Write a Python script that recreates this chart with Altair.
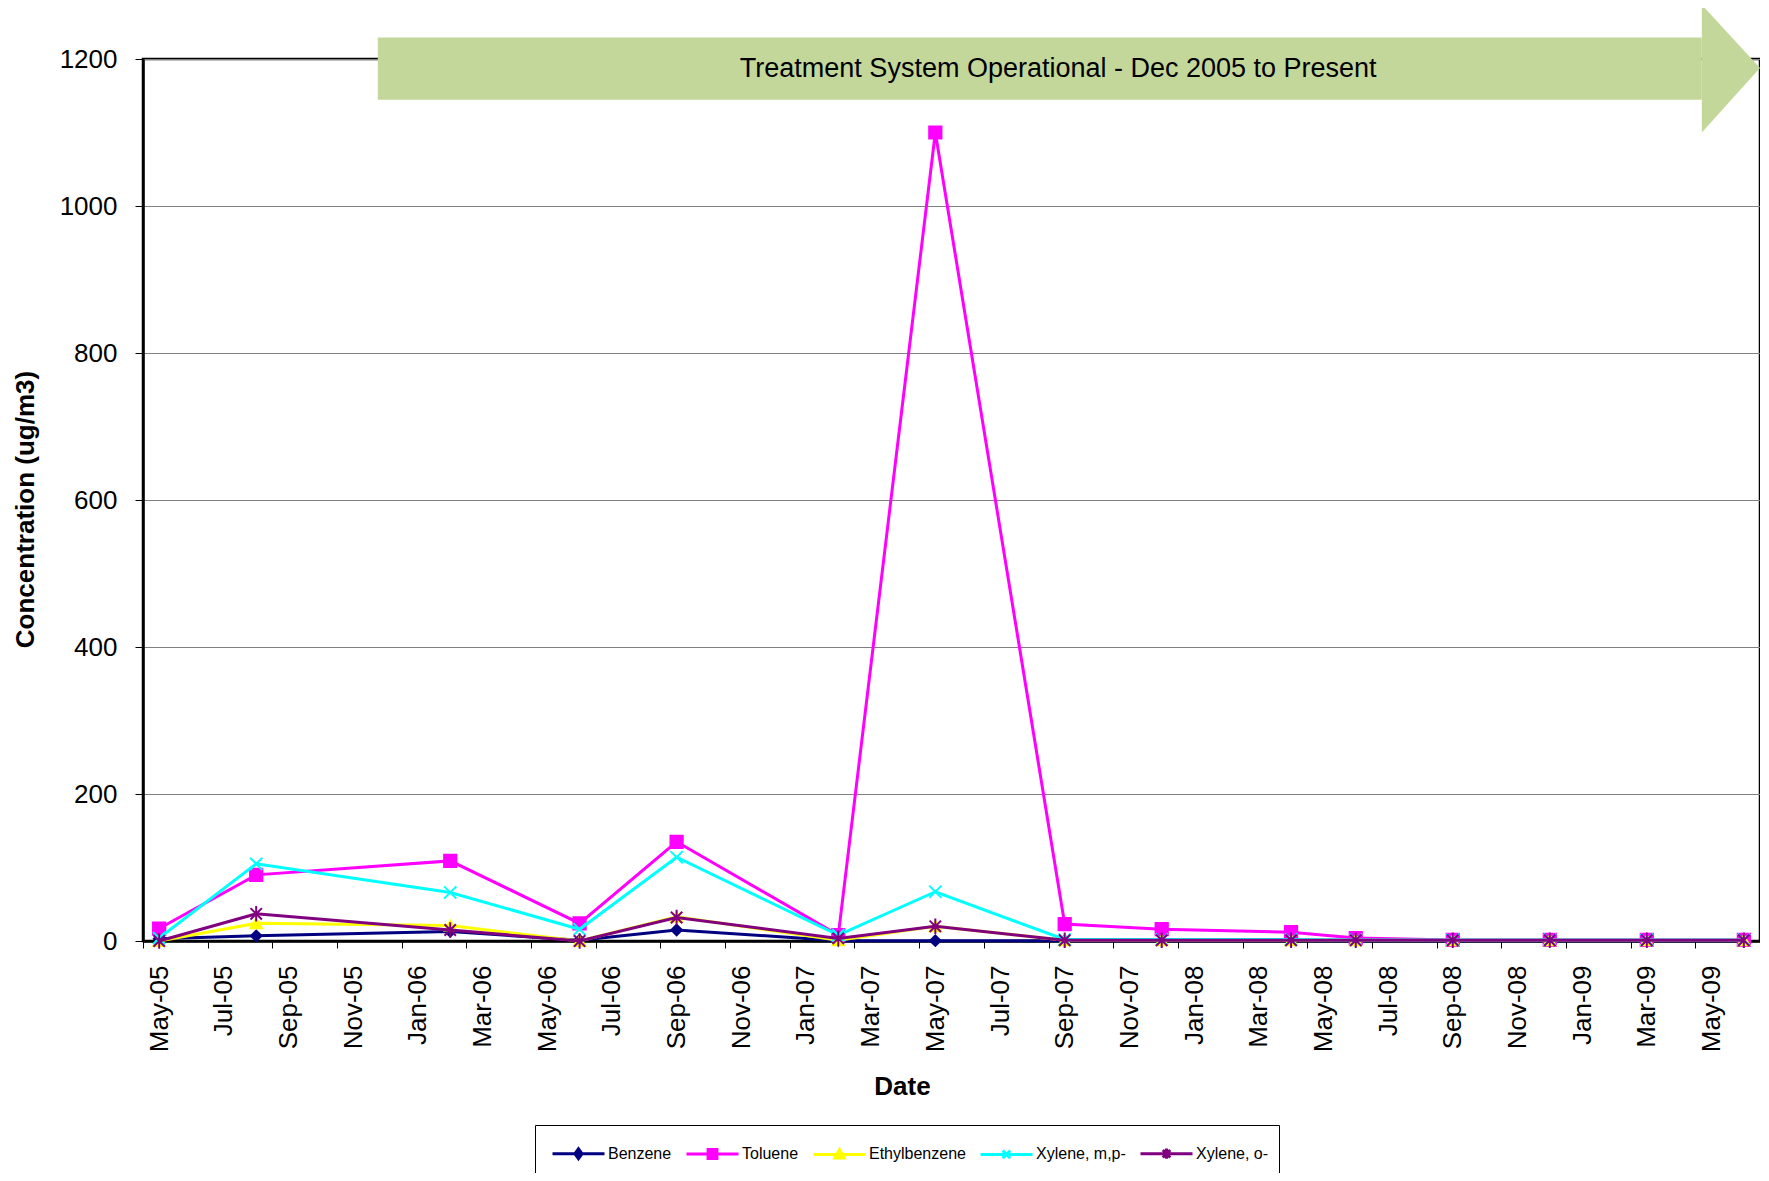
import json
import altair as alt
import pandas as pd

# ---------------- data ----------------
series = ["Benzene", "Toluene", "Ethylbenzene", "Xylene, m,p-", "Xylene, o-"]
colors = ["#000080", "#FF00FF", "#FFFF00", "#00FFFF", "#800080"]

dates = ["2005-05", "2005-08", "2006-02", "2006-06", "2006-09", "2007-02", "2007-05",
         "2007-09", "2007-12", "2008-04", "2008-06", "2008-09", "2008-12", "2009-03", "2009-06"]

benzene      = [3, 7, 13, 1, 15, 0.5, 0.5, 0.5, 0.5, 0.5, 0.5, 0.5, 0.5, 0.5, 0.5]
toluene      = [17, 90, 109, 24, 135, 8, 1100, 23, 16, 12, 4, 1.5, 1.5, 1.5, 1.5]
ethylbenzene = [0, 24, 21, 0, 33, 1, 20, 1, 1, 1, 1, 1, 1, 1, 1]
xylene_mp    = [4, 105, 66, 16, 114, 8, 67, 2, 2, 2, 1.5, 1.5, 1.5, 1.5, 1.5]
xylene_o     = [0, 37, 15, 0, 32, 3.5, 20, 1, 1, 1, 1, 1, 1, 1, 1]
values = [benzene, toluene, ethylbenzene, xylene_mp, xylene_o]

tick_labels = ["May-05", "Jul-05", "Sep-05", "Nov-05", "Jan-06", "Mar-06", "May-06", "Jul-06",
               "Sep-06", "Nov-06", "Jan-07", "Mar-07", "May-07", "Jul-07", "Sep-07", "Nov-07",
               "Jan-08", "Mar-08", "May-08", "Jul-08", "Sep-08", "Nov-08", "Jan-09", "Mar-09",
               "May-09"]
y_ticks = [0, 200, 400, 600, 800, 1000, 1200]

banner_text = "Treatment System Operational - Dec 2005 to Present"
# banner arrow (in data units: month index / concentration)
banner_body_x = [7.26, 48.2]
banner_body_y = [1144.5, 1229.3]
banner_head_x = [48.2, 50.0]
banner_head_y = [1100.0, 1187.7]
banner_head_y2 = [1273.8, 1187.7]
banner_text_pos = [28.3, 1187.0]

# ---------------- table ----------------
start = pd.Timestamp("2005-05-01")
rows = []
for s, vals in zip(series, values):
    for d, v in zip(dates, vals):
        t = pd.Timestamp(d + "-01")
        idx = (t.year - start.year) * 12 + (t.month - start.month) + 0.5
        rows.append({"series": s, "idx": idx, "value": v, "date": d})
df = pd.DataFrame(rows)

n_months = 50
FONT = "Liberation Sans"
W, H = 1617, 882

xscale = alt.Scale(domain=[0, n_months], nice=False, zero=False)
yscale = alt.Scale(domain=[0, 1200], nice=False)

label_arr = json.dumps(tick_labels)
xaxis = alt.Axis(
    values=list(range(0, n_months + 1, 2)),
    labelExpr=f"datum.value < {n_months} ? {label_arr}[round(datum.value / 2)] : ''",
    labelAngle=270, labelOffset=W / n_months / 2, labelFont=FONT, labelFontSize=26,
    labelColor="black", labelPadding=17, labelOverlap=False, labelFlush=False, labelBound=False,
    tickSize=7, tickColor="black", tickWidth=1,
    domainColor="black", domainWidth=2.5, grid=False,
    title="Date", titleFont=FONT, titleFontSize=26, titleFontWeight="bold", titleColor="black",
    titleX=759, titleY=145, titleAlign="center", titleBaseline="middle",
)
yaxis = alt.Axis(
    values=y_ticks, format="d", labelFont=FONT, labelFontSize=26, labelColor="black",
    labelPadding=18, labelFlush=False, tickSize=8, tickColor="black", tickWidth=1,
    domainColor="black", domainWidth=2.5,
    grid=True, gridColor="#808080", gridWidth=1,
    title="Concentration (ug/m3)", titleFont=FONT, titleFontSize=26, titleFontWeight="bold",
    titleColor="black", titleAngle=270, titleX=-118, titleY=450,
    titleAlign="center", titleBaseline="middle",
)

marker_shapes = [
    "diamond",
    "square",
    "triangle-up",
    "M-1,-1L1,1M-1,1L1,-1",
    "M-1,-1L1,1M-1,1L1,-1M0,-1.35L0,1.35",
]
marker_sizes = [110, 150, 130, 150, 130]
# legend glyphs: a 52px line with a small marker (unit = 17px at symbolSize 34^2)
legend_shapes = [
    "M-1.53,0L1.53,0M0,-0.29L0.21,0L0,0.29L-0.21,0Z",
    "M-1.53,0L1.53,0M-0.26,-0.26L0.26,-0.26L0.26,0.26L-0.26,0.26Z",
    "M-1.53,0L1.53,0M0,-0.29L0.27,0.21L-0.27,0.21Z",
    "M-1.53,0L1.53,0M-0.22,-0.22L0.22,0.22M-0.22,0.22L0.22,-0.22",
    "M-1.53,0L1.53,0M-0.22,-0.22L0.22,0.22M-0.22,0.22L0.22,-0.22M0,-0.3L0,0.3",
]

base = alt.Chart(df)
layers = []

body_df = pd.DataFrame({"x": [banner_body_x[0]], "x2": [banner_body_x[1]],
                        "y": [banner_body_y[0]], "y2": [banner_body_y[1]]})
head_df = pd.DataFrame({"x": banner_head_x, "y": banner_head_y, "y2": banner_head_y2})
text_df = pd.DataFrame({"x": [banner_text_pos[0]], "y": [banner_text_pos[1]], "t": [banner_text]})

for s, c, shp, sz in zip(series, colors, marker_shapes, marker_sizes):
    sub = base.transform_filter(alt.datum.series == s)
    layers.append(sub.mark_line(color=c, strokeWidth=3).encode(
        x=alt.X("idx:Q", scale=xscale, axis=xaxis),
        y=alt.Y("value:Q", scale=yscale, axis=yaxis),
        order="idx:Q",
    ))
    layers.append(sub.mark_point(shape=shp, size=sz, filled=True, fill=c, stroke=c,
                                 strokeWidth=2, opacity=1).encode(
        x=alt.X("idx:Q", scale=xscale, axis=xaxis),
        y=alt.Y("value:Q", scale=yscale, axis=yaxis),
    ))

body = alt.Chart(body_df).mark_rect(color="#C4D79B").encode(
    x=alt.X("x:Q", scale=xscale, axis=xaxis), x2="x2:Q",
    y=alt.Y("y:Q", scale=yscale, axis=yaxis), y2="y2:Q")
head = alt.Chart(head_df).mark_area(color="#C4D79B", opacity=1).encode(
    x=alt.X("x:Q", scale=xscale, axis=xaxis),
    y=alt.Y("y:Q", scale=yscale, axis=yaxis), y2="y2:Q")
btext = alt.Chart(text_df).mark_text(font=FONT, fontSize=27, color="black",
                                     align="center", baseline="middle").encode(
    x=alt.X("x:Q", scale=xscale, axis=xaxis),
    y=alt.Y("y:Q", scale=yscale, axis=yaxis), text="t:N")

legend = alt.Legend(
    orient="none", legendX=392, legendY=1066, direction="horizontal", columns=5, title=None,
    labelFont=FONT, labelFontSize=16, labelColor="black", labelOffset=11, symbolOffset=15,
    symbolSize=1156, symbolStrokeWidth=3, columnPadding=7,
    strokeColor="black", fillColor="white", padding=10,
)
legend_layer = base.transform_filter("false").mark_point(filled=True, opacity=1).encode(
    fill=alt.Fill("series:N", scale=alt.Scale(domain=series, range=colors), legend=legend),
    stroke=alt.Stroke("series:N", scale=alt.Scale(domain=series, range=colors), legend=legend),
    shape=alt.Shape("series:N", scale=alt.Scale(domain=series, range=legend_shapes), legend=legend),
)

chart = alt.layer(*layers, body, head, btext, legend_layer).properties(
    width=W, height=H,
    autosize=alt.AutoSizeParams(type="none"),
    padding={"left": 135, "top": 51, "right": 0, "bottom": 232},
    background="white",
).configure_view(stroke="black", strokeWidth=2.5)

chart.save("out.html", embed_options={"renderer": "svg", "actions": False})
